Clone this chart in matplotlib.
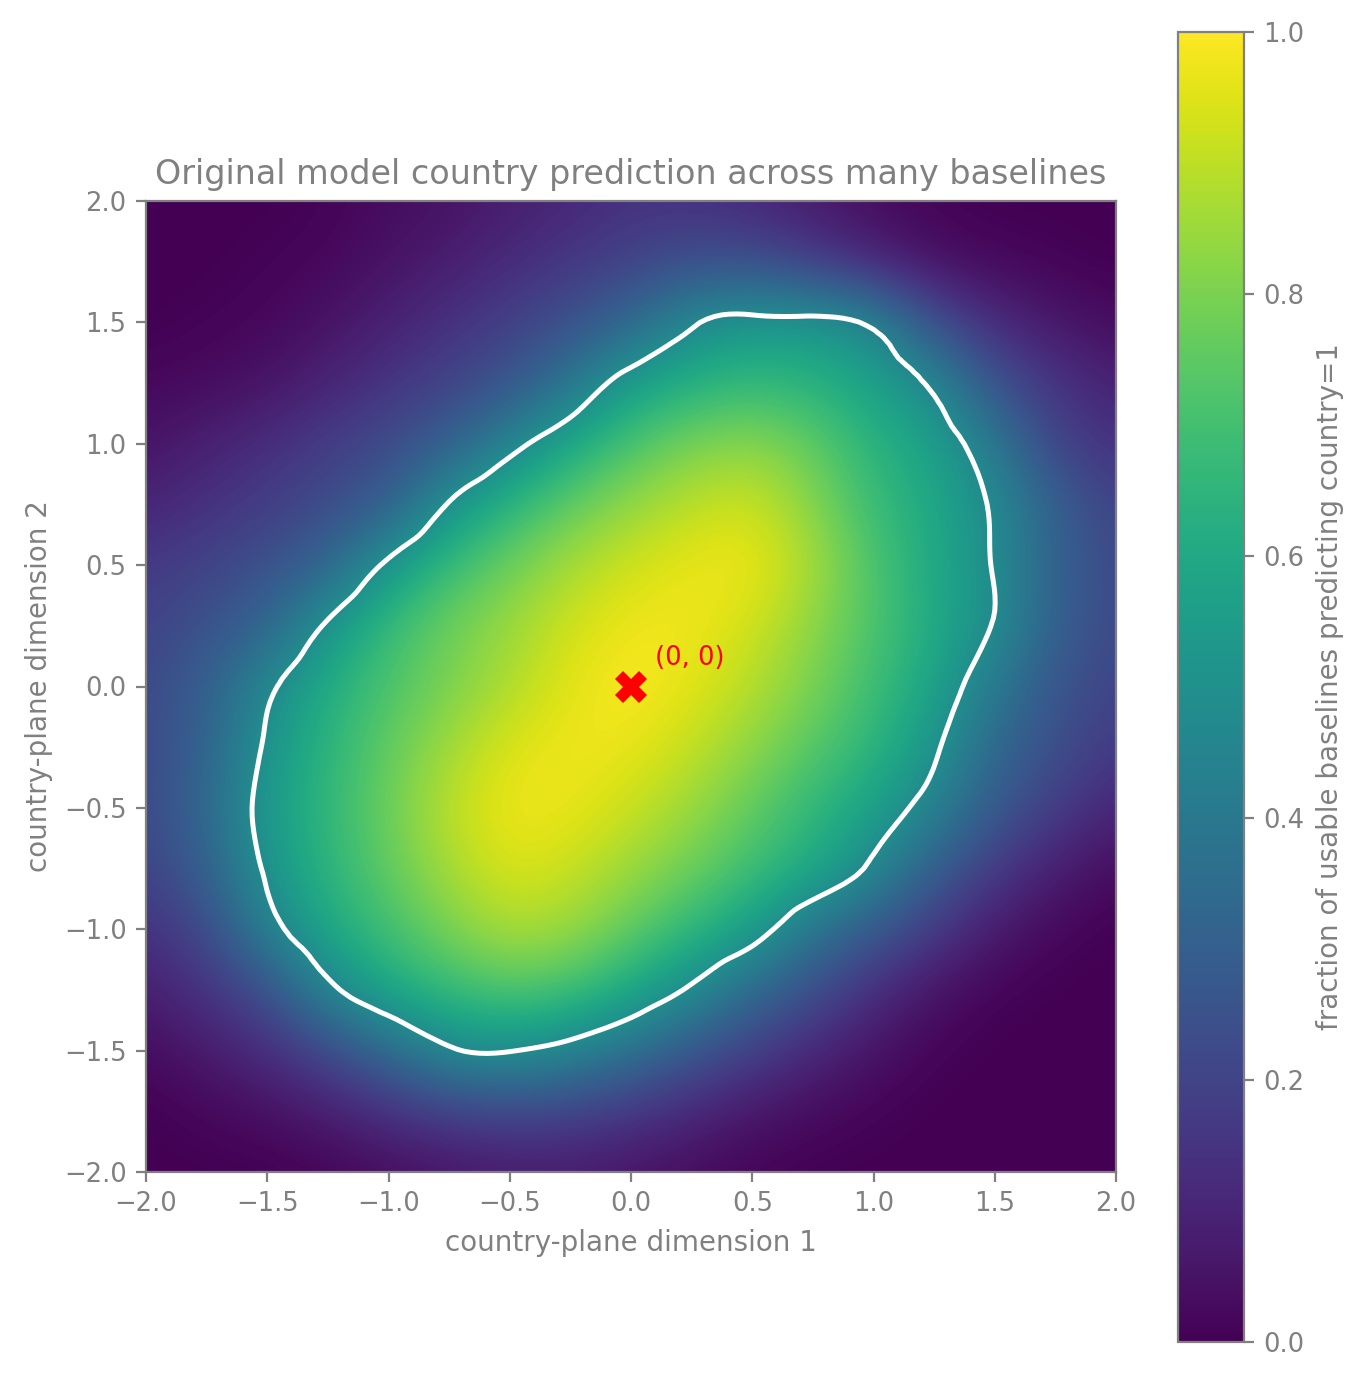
import numpy as np
import matplotlib
matplotlib.use("Agg")
import matplotlib.pyplot as plt
import matplotlib.tri as mtri

# grid coordinates (country-plane dimension 1 and 2)
x_coords = [-2.0, -1.75, -1.5, -1.25, -1.0, -0.75, -0.5, -0.25, 0.0,
            0.25, 0.5, 0.75, 1.0, 1.25, 1.5, 1.75, 2.0]
y_coords = [2.0, 1.75, 1.5, 1.25, 1.0, 0.75, 0.5, 0.25, 0.0,
            -0.25, -0.5, -0.75, -1.0, -1.25, -1.5, -1.75, -2.0]

# fraction of usable baselines predicting country=1 (rows: top y=2 -> bottom y=-2)
row_y2p00 = [0.00, 0.00, 0.00, 0.01, 0.03, 0.05, 0.08, 0.11, 0.14, 0.14, 0.11, 0.07, 0.03, 0.01, 0.00, 0.00, 0.00]
row_y1p75 = [0.00, 0.00, 0.01, 0.02, 0.05, 0.08, 0.12, 0.16, 0.20, 0.24, 0.24, 0.18, 0.10, 0.04, 0.02, 0.01, 0.00]
row_y1p50 = [0.00, 0.01, 0.02, 0.05, 0.09, 0.14, 0.19, 0.25, 0.33, 0.48, 0.53, 0.53, 0.47, 0.24, 0.12, 0.06, 0.03]
row_y1p25 = [0.02, 0.03, 0.05, 0.10, 0.15, 0.20, 0.26, 0.38, 0.56, 0.63, 0.67, 0.64, 0.57, 0.47, 0.25, 0.15, 0.09]
row_y1p00 = [0.05, 0.09, 0.13, 0.18, 0.23, 0.30, 0.45, 0.60, 0.72, 0.80, 0.83, 0.76, 0.64, 0.57, 0.40, 0.20, 0.14]
row_y0p75 = [0.10, 0.14, 0.18, 0.23, 0.29, 0.51, 0.65, 0.76, 0.84, 0.90, 0.93, 0.82, 0.68, 0.60, 0.48, 0.30, 0.20]
row_y0p50 = [0.17, 0.20, 0.25, 0.32, 0.53, 0.68, 0.78, 0.87, 0.93, 0.97, 0.98, 0.87, 0.72, 0.60, 0.49, 0.30, 0.22]
row_y0p25 = [0.20, 0.25, 0.32, 0.52, 0.68, 0.78, 0.85, 0.93, 0.98, 0.98, 0.93, 0.83, 0.72, 0.61, 0.49, 0.30, 0.22]
row_y0p00 = [0.22, 0.30, 0.47, 0.62, 0.72, 0.80, 0.88, 0.96, 1.00, 0.96, 0.89, 0.80, 0.69, 0.58, 0.40, 0.26, 0.20]
row_ym0p25 = [0.22, 0.31, 0.52, 0.65, 0.76, 0.86, 0.95, 0.98, 0.97, 0.91, 0.83, 0.74, 0.65, 0.52, 0.33, 0.24, 0.17]
row_ym0p50 = [0.22, 0.33, 0.55, 0.66, 0.78, 0.90, 0.98, 0.97, 0.92, 0.85, 0.76, 0.66, 0.57, 0.44, 0.28, 0.18, 0.10]
row_ym0p75 = [0.20, 0.30, 0.52, 0.65, 0.76, 0.87, 0.95, 0.92, 0.85, 0.78, 0.69, 0.61, 0.47, 0.30, 0.17, 0.08, 0.03]
row_ym1p00 = [0.14, 0.22, 0.44, 0.60, 0.70, 0.80, 0.88, 0.85, 0.76, 0.66, 0.56, 0.38, 0.28, 0.17, 0.07, 0.02, 0.00]
row_ym1p25 = [0.08, 0.15, 0.24, 0.46, 0.60, 0.68, 0.73, 0.70, 0.60, 0.48, 0.34, 0.24, 0.13, 0.05, 0.01, 0.00, 0.00]
row_ym1p50 = [0.03, 0.07, 0.13, 0.22, 0.34, 0.48, 0.505, 0.45, 0.37, 0.27, 0.19, 0.11, 0.05, 0.01, 0.00, 0.00, 0.00]
row_ym1p75 = [0.00, 0.02, 0.04, 0.08, 0.14, 0.19, 0.21, 0.20, 0.16, 0.11, 0.06, 0.03, 0.01, 0.00, 0.00, 0.00, 0.00]
row_ym2p00 = [0.00, 0.00, 0.00, 0.01, 0.03, 0.05, 0.07, 0.07, 0.05, 0.03, 0.01, 0.00, 0.00, 0.00, 0.00, 0.00, 0.00]

title = "Original model country prediction across many baselines"
xlabel = "country-plane dimension 1"
ylabel = "country-plane dimension 2"
cbar_label = "fraction of usable baselines predicting country=1"
ticks = [-2.0, -1.5, -1.0, -0.5, 0.0, 0.5, 1.0, 1.5, 2.0]
cbar_ticks = [0.0, 0.2, 0.4, 0.6, 0.8, 1.0]
origin_label = "(0, 0)"
contour_level = 0.5

Z = np.array([row_y2p00, row_y1p75, row_y1p50, row_y1p25, row_y1p00, row_y0p75,
              row_y0p50, row_y0p25, row_y0p00, row_ym0p25, row_ym0p50, row_ym0p75,
              row_ym1p00, row_ym1p25, row_ym1p50, row_ym1p75, row_ym2p00])
xs = np.array(x_coords)
ys = np.array(y_coords)

GRAY = "#808080"
plt.rcParams.update({
    "font.family": "DejaVu Sans",
    "text.color": GRAY,
    "axes.labelcolor": GRAY,
    "axes.edgecolor": GRAY,
    "xtick.color": GRAY,
    "ytick.color": GRAY,
})

W, H = 1366, 1380
fig = plt.figure(figsize=(W / 200, H / 200), dpi=200)
ax = fig.add_axes([146 / W, 1 - 1172 / H, (1116 - 146) / W, (1172 - 201) / H])
cax = fig.add_axes([1178 / W, 1 - 1342 / H, (1244 - 1178) / W, (1342 - 32) / H])

step = xs[1] - xs[0]
im = ax.imshow(Z, cmap="viridis", vmin=0, vmax=1, interpolation="bicubic",
               extent=[xs.min() - step / 2, xs.max() + step / 2,
                       ys.min() - step / 2, ys.max() + step / 2],
               origin="upper", aspect="auto")

# smooth contour through matplotlib's triangulation refiner
X, Y = np.meshgrid(xs, ys)
tri = mtri.Triangulation(X.ravel(), Y.ravel())
interp = mtri.CubicTriInterpolator(tri, Z.ravel(), kind="min_E")
refiner = mtri.UniformTriRefiner(tri)
tri_f, z_f = refiner.refine_field(Z.ravel(), triinterpolator=interp, subdiv=3)
ax.tricontour(tri_f, z_f, levels=[contour_level], colors="white", linewidths=1.8)

ax.plot([0], [0], marker="X", color="red", markersize=11.5, markeredgewidth=0)
ax.text(0.1, 0.09, origin_label, color="red", fontsize=9.3)

ax.set_xlim(-2, 2)
ax.set_ylim(-2, 2)
ax.set_xticks(ticks)
ax.set_yticks(ticks)
ax.tick_params(labelsize=9.3, length=3.5, width=0.8)
ax.set_xlabel(xlabel, fontsize=10)
ax.set_ylabel(ylabel, fontsize=10)
ax.set_title(title, fontsize=12, color=GRAY)

cb = fig.colorbar(im, cax=cax)
cb.set_ticks(cbar_ticks)
cb.ax.tick_params(labelsize=9.3, length=3.5, width=0.8, colors=GRAY)
cb.outline.set_edgecolor(GRAY)
cb.set_label(cbar_label, fontsize=10, color=GRAY)

fig.savefig("out.png", dpi=200)
